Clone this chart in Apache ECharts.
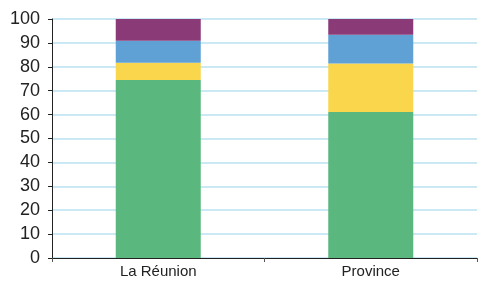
<!DOCTYPE html>
<html>
<head>
<meta charset="UTF-8">
<script src="https://cdn.jsdelivr.net/npm/echarts@6/dist/echarts.min.js"></script>
<style>
  html, body { margin: 0; padding: 0; background: #fff; }
  #chart { width: 479px; height: 282px; }
</style>
</head>
<body>
<div id="chart"></div>
<script>
// categories and stacked shares (%)
const categories = ['La Réunion', 'Province'];
const greenValues = [74.5, 61.1];
const yellowValues = [7.2, 20.3];
const blueValues = [9.2, 12.0];
const purpleValues = [9.1, 6.6];

const colors = ['#5ab77e', '#f9d64c', '#5fa1d5', '#893a77'];

const chart = echarts.init(document.getElementById('chart'));

const makeSeries = (data, i) => ({
  type: 'bar',
  stack: 'total',
  data: data,
  barWidth: '40%',
  itemStyle: { color: colors[i] },
  silent: true
});

chart.setOption({
  animation: false,
  grid: { left: 52, right: 2, top: 19, bottom: 24, containLabel: false },
  xAxis: {
    type: 'category',
    data: categories,
    axisLine: { lineStyle: { color: '#222', width: 1 } },
    axisTick: { show: true, length: 4, lineStyle: { color: '#555' } },
    axisLabel: {
      color: '#222',
      fontFamily: 'Liberation Sans, Arial, sans-serif',
      fontSize: 15,
      margin: 6
    }
  },
  yAxis: {
    type: 'value',
    min: 0,
    max: 100,
    interval: 10,
    axisLine: { show: true, lineStyle: { color: '#222', width: 1 } },
    axisTick: { show: true, length: 4, lineStyle: { color: '#222' } },
    axisLabel: {
      color: '#222',
      fontFamily: 'Liberation Sans, Arial, sans-serif',
      fontSize: 18,
      margin: 12
    },
    splitLine: { lineStyle: { color: '#b8e2f2', width: 1.5 } }
  },
  series: [
    makeSeries(greenValues, 0),
    makeSeries(yellowValues, 1),
    makeSeries(blueValues, 2),
    makeSeries(purpleValues, 3)
  ]
});
</script>
</body>
</html>
